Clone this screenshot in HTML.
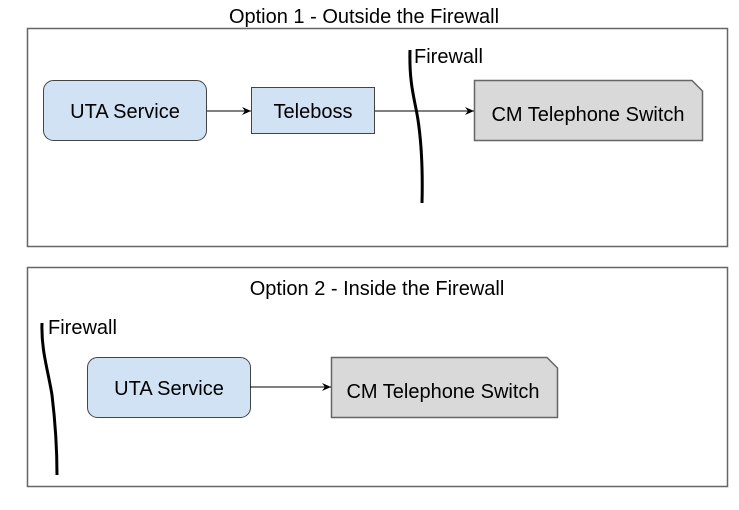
<!DOCTYPE html>
<html><head><style>body{margin:0;background:#fff}svg{display:block}text{font-family:"Liberation Sans",Arial,sans-serif;fill:#000}</style></head>
<body>
<svg width="739" height="510" viewBox="0 0 739 510" xmlns="http://www.w3.org/2000/svg">
<defs><marker id="a" markerWidth="10" markerHeight="8" refX="9" refY="4" orient="auto" markerUnits="userSpaceOnUse"><path d="M0,0 L9,4 L0,8 L3,4 Z" fill="#000"/></marker></defs>
<text x="364" y="23" font-size="20" text-anchor="middle">Option 1 - Outside the Firewall</text>
<rect x="27.5" y="28.5" width="700" height="218" fill="#fff" stroke="#666" stroke-width="1.5"/>
<rect x="43.5" y="80.5" width="163" height="60" rx="10" fill="#d0e2f3" stroke="#444"/>
<text x="125" y="118" font-size="20" text-anchor="middle">UTA Service</text>
<rect x="251.5" y="87.5" width="123" height="46" fill="#d0e2f3" stroke="#444"/>
<text x="313" y="118" font-size="20" text-anchor="middle">Teleboss</text>
<path d="M474.5,80.5 H692 L702.5,91 V140.5 H474.5 Z" fill="#d9d9d9" stroke="#666" stroke-width="1.5"/>
<text x="588" y="121" font-size="20" text-anchor="middle">CM Telephone Switch</text>
<line x1="207" y1="111" x2="251" y2="111" stroke="#000" marker-end="url(#a)"/>
<line x1="375" y1="111" x2="474" y2="111" stroke="#000" marker-end="url(#a)"/>
<path d="M410,50 C409,85 415,100 418,120 C421,140 423,165 422,203" fill="none" stroke="#000" stroke-width="3"/>
<text x="414" y="63" font-size="20">Firewall</text>

<rect x="27.5" y="267.5" width="700" height="219" fill="#fff" stroke="#666" stroke-width="1.5"/>
<text x="377" y="295" font-size="20" text-anchor="middle">Option 2 - Inside the Firewall</text>
<path d="M42,323 C41,350 48,370 52,395 C55,420 57,445 57,475" fill="none" stroke="#000" stroke-width="3"/>
<text x="48" y="334" font-size="20">Firewall</text>
<rect x="87.5" y="357.5" width="163" height="60" rx="10" fill="#d0e2f3" stroke="#444"/>
<text x="169" y="395" font-size="20" text-anchor="middle">UTA Service</text>
<path d="M331.5,357.5 H547 L557.5,368 V417.5 H331.5 Z" fill="#d9d9d9" stroke="#666" stroke-width="1.5"/>
<text x="443" y="398" font-size="20" text-anchor="middle">CM Telephone Switch</text>
<line x1="250" y1="387" x2="331" y2="387" stroke="#000" marker-end="url(#a)"/>
</svg>
</body></html>
